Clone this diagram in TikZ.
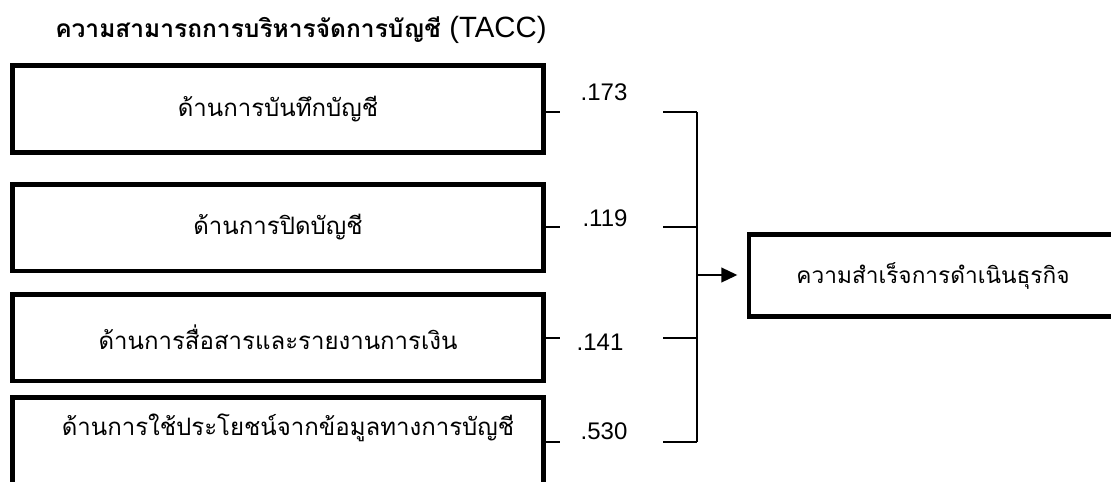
\documentclass[tikz,border=0pt]{standalone}
\usepackage{fontspec}
\setmainfont{Liberation Sans}
\newfontfamily\thaifont[Script=Thai]{Loma}
\usetikzlibrary{arrows.meta}
\begin{document}
\begin{tikzpicture}[x=0.75pt,y=-0.75pt,
  inbox/.style={draw, line width=3.5pt, rectangle, inner sep=0pt,
    minimum width=398pt, minimum height=65pt, font=\thaifont\fontsize{18}{21}\selectfont},
  outbox/.style={draw, line width=3.5pt, rectangle, inner sep=0pt,
    minimum width=276pt, minimum height=61.5pt, font=\thaifont\fontsize{17}{20}\selectfont},
  coef/.style={inner sep=0pt, font=\fontsize{18}{20}\selectfont},
  conn/.style={line width=1.5pt},
  title/.style={inner sep=0pt, anchor=west}]
\useasboundingbox (0,0) rectangle (1111,482);
\clip (0,0) rectangle (1111,482);

\node[title] (ttl) at (55,30) {\thaifont\bfseries\fontsize{18.4}{22}\selectfont ความสามารถการบริหารจัดการบัญชี \normalfont\fontsize{22}{24}\selectfont(TACC)};

\node[inbox] (b1) at (278,109) {ด้านการบันทึกบัญชี};
\node[inbox] (b2) at (278,227.5) {ด้านการปิดบัญชี};
\node[inbox] (b3) at (278,337.5) {ด้านการสื่อสารและรายงานการเงิน};
\node[inbox] (b4) at (278,441) {};
\node[inner sep=0pt, font=\thaifont\fontsize{18}{21}\selectfont] (t4) at (288,428) {ด้านการใช้ประโยชน์จากข้อมูลทางการบัญชี};

\node[outbox] (out) at (933,275.5) {ความสำเร็จการดำเนินธุรกิจ};

\node[coef] (c1) at (604,92) {.173};
\node[coef] (c2) at (605,218) {.119};
\node[coef] (c3) at (600,342) {.141};
\node[coef] (c4) at (604,431) {.530};

\coordinate (s1) at (560,112);
\coordinate (s2) at (560,227);
\coordinate (s3) at (560,338);
\coordinate (s4) at (560,442);
\coordinate (l1) at (663,112);
\coordinate (l2) at (663,227);
\coordinate (l3) at (663,338);
\coordinate (l4) at (663,442);
\coordinate (r1) at (697,112);
\coordinate (r2) at (697,227);
\coordinate (r3) at (697,338);
\coordinate (r4) at (697,442);
\coordinate (j) at (697,275);

\draw[conn] (b1.east |- s1) -- (s1);
\draw[conn] (b2.east |- s2) -- (s2);
\draw[conn] (b3.east |- s3) -- (s3);
\draw[conn] (b4.east |- s4) -- (s4);
\draw[conn] (l1) -- (r1);
\draw[conn] (l2) -- (r2);
\draw[conn] (l3) -- (r3);
\draw[conn] (l4) -- (r4);
\draw[conn] (r1) -- (r4);
\draw[conn, -{Triangle[length=12pt,width=11pt]}, shorten >=7pt] (j) -- (out.west |- j);
\end{tikzpicture}
\end{document}
